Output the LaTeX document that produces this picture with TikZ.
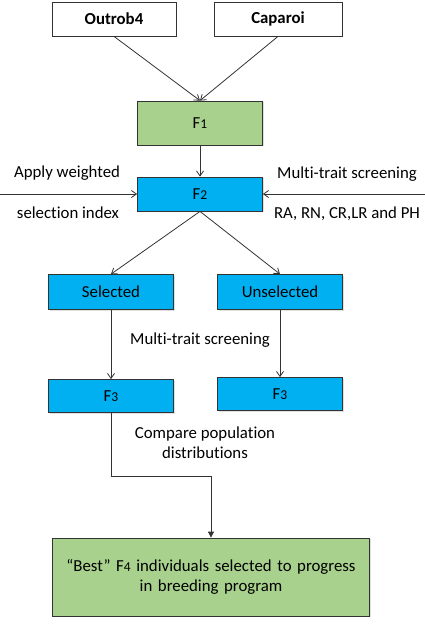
\documentclass[tikz,border=0pt]{standalone}
\usepackage{fontspec}
\setmainfont{Carlito}[Ligatures=NoCommon]
\usepackage{xcolor}
\definecolor{colGen}{HTML}{A9D18E}
\definecolor{colSel}{HTML}{00B0F0}
\colorlet{colLine}{black!80}
\usetikzlibrary{arrows.meta, positioning, calc, shadows}
\newcommand{\gen}[1]{F{\fontsize{13.5}{13.5}\selectfont #1}}

\begin{document}
\begin{tikzpicture}[x=1pt, y=-1pt, >={Straight Barb[length=5pt, width=7pt]},
		every node/.style={font=\fontsize{16.8}{20}\selectfont},
		box/.style={draw=colLine, line width=0.8pt, inner sep=0pt,
			drop shadow={shadow xshift=1.2pt, shadow yshift=-1.2pt, opacity=0.25}},
		genbox/.style={box, minimum width=125pt, minimum height=34pt}]
	\useasboundingbox (0,0) rectangle (425,625);
	% parents
	\node[box, fill=white, minimum width=124pt, minimum height=34pt] (outrob) at (114,19) {\textbf{Outrob4}};
	\node[box, fill=white, minimum width=128pt, minimum height=34pt] (caparoi) at (278,19) {\textbf{Caparoi}};
	\node[genbox, fill=colGen, minimum height=44pt] (f1) at (200,123) {\gen{1}};
	\node[genbox, fill=colSel] (f2) at (200,194) {\gen{2}};
	\draw[->, thick, colLine] (outrob.south) -- (f1.north);
	\draw[->, thick, colLine] (caparoi.south) -- (f1.north);
	\draw[->, thick, colLine] (f1) -- (f2);
	% screening into F2
	\coordinate (wIn) at (0,194);
	\coordinate (mIn) at (425,194);
	\draw[->, thick, colLine] (wIn) -- (f2.west);
	\draw[->, thick, colLine] (mIn) -- (f2.east);
	\node (wTop) at (67,173) {Apply weighted};
	\node (wBot) at (68,213) {selection index};
	\node (mTop) at (347,174) {Multi-trait screening};
	\node (mBot) at (347,214) {RA, RN, CR,LR and PH};
	% F3
	\foreach \x/\n/\l/\yb in {111/sel/Selected/396, 280/unsel/Unselected/394}{
		\node[genbox, fill=colSel, minimum height=35pt] (\n) at (\x,292) {\l};
		\node[genbox, fill=colSel, minimum height=33pt] (f3\n) at (\x,\yb) {\gen{3}};
		\draw[->, thick, colLine] (f2.south) -- (\n.north);
		\draw[->, thick, colLine] (\n) -- (f3\n);
	}
	\node (screen) at (200,340) {Multi-trait screening};
	\node[align=center] (compare) at (205,443) {Compare population\\distributions};
	% best
	\node[box, fill=colGen, minimum width=317pt, minimum height=78pt,
		text width=310pt, align=center] (best) at (211,577)
		{“Best” \gen{4} individuals selected to progress\\in breeding program};
	\draw[-{Triangle[length=6pt, width=6pt]}, thick, colLine]
		(f3sel.south) -- ++(0,63) -| (best.north);
\end{tikzpicture}
\end{document}
